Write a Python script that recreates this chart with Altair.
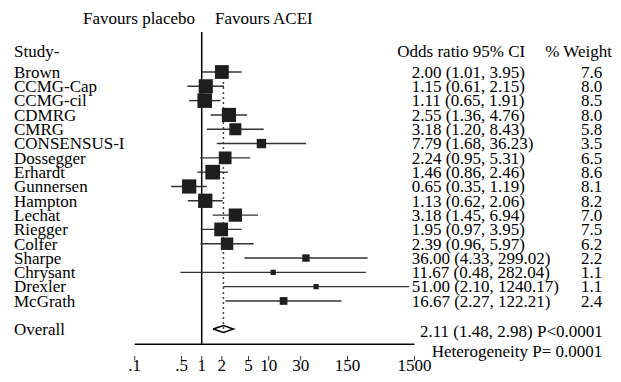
import altair as alt
import pandas as pd
import numpy as np

studies = ["Brown", "CCMG-Cap", "CCMG-cil", "CDMRG", "CMRG", "CONSENSUS-I", "Dossegger",
           "Erhardt", "Gunnersen", "Hampton", "Lechat", "Riegger", "Colfer", "Sharpe",
           "Chrysant", "Drexler", "McGrath"]
odds = [2.00, 1.15, 1.11, 2.55, 3.18, 7.79, 2.24, 1.46, 0.65, 1.13, 3.18, 1.95, 2.39,
        36.00, 11.67, 51.00, 16.67]
lower = [1.01, 0.61, 0.65, 1.36, 1.20, 1.68, 0.95, 0.86, 0.35, 0.62, 1.45, 0.97, 0.96,
         4.33, 0.48, 2.10, 2.27]
upper = [3.95, 2.15, 1.91, 4.76, 8.43, 36.23, 5.31, 2.46, 1.19, 2.06, 6.94, 3.95, 5.97,
         299.02, 282.04, 1240.17, 122.21]
weights = [7.6, 8.0, 8.5, 8.0, 5.8, 3.5, 6.5, 8.6, 8.1, 8.2, 7.0, 7.5, 6.2, 2.2, 1.1, 1.1, 2.4]
overall_or = 2.11
overall_lo = 1.48
overall_hi = 2.98
overall_p = "P<0.0001"
heterogeneity = "Heterogeneity P= 0.0001"
tick_values = [0.1, 0.5, 1, 2, 5, 10, 30, 150, 1500]
tick_labels = [".1", ".5", "1", "2", "5", "10", "30", "150", "1500"]

FONT = "Liberation Serif"
FS = 17
W, H = 605, 366
ROW_PX = 14.31
TOP_PX = 64.0           # y of first row within the chart
X1_PX = 193.7           # x of OR=1 within the chart
DEC_PX = 67.0           # pixels per decade
DY = 5.8

xs = alt.Scale(type="log", domain=[10 ** ((0 - X1_PX) / DEC_PX), 10 ** ((W - X1_PX) / DEC_PX)], nice=False)
ys = alt.Scale(domain=[-TOP_PX / ROW_PX, (H - TOP_PX) / ROW_PX], reverse=True, nice=False, zero=False)

n = len(studies)
OVERALL_ROW = 17.96
AXIS_ROW = 19.03

df = pd.DataFrame({
    "study": studies, "or": odds, "lo": lower, "hi": upper, "w": weights,
    "row": list(range(n)),
})
df["ci"] = [f"{o:.2f} ({l:.2f}, {u:.2f})" for o, l, u in zip(odds, lower, upper)]
df["wt"] = [f"{w:.1f}" for w in weights]
df["size"] = df["w"] * 25

X = lambda f: alt.X(f, type="quantitative", scale=xs, axis=None)
Y = lambda f: alt.Y(f, type="quantitative", scale=ys, axis=None)

base = alt.Chart(df)

vline = alt.Chart(pd.DataFrame({"v": [1.0], "r": [-2.8], "r2": [AXIS_ROW]})).mark_rule(
    color="black", strokeWidth=1.5).encode(x=X("v"), y=Y("r"), y2="r2")

dotted = alt.Chart(pd.DataFrame({"v": [overall_or], "r": [0.0], "r2": [OVERALL_ROW + 0.25]})).mark_rule(
    color="#444", strokeWidth=1.5, strokeDash=[2, 3]).encode(x=X("v"), y=Y("r"), y2="r2")

ci = base.mark_rule(color="#333", strokeWidth=1.4).encode(x=X("lo"), x2="hi", y=Y("row"))

squares = base.mark_square(color="#1e1e1e", opacity=1, filled=True).encode(
    x=X("or"), y=Y("row"), size=alt.Size("size:Q", scale=None, legend=None))

dia = pd.DataFrame({
    "v": [overall_lo, overall_or, overall_hi, overall_or, overall_lo],
    "r": [OVERALL_ROW, OVERALL_ROW - 0.24, OVERALL_ROW, OVERALL_ROW + 0.24, OVERALL_ROW],
    "o": [0, 1, 2, 3, 4],
})
diamond = alt.Chart(dia).mark_line(color="black", strokeWidth=1.5).encode(
    x=X("v"), y=Y("r"), order="o:O")

axis_line = alt.Chart(pd.DataFrame({"v": [tick_values[0]], "v2": [tick_values[-1]], "r": [AXIS_ROW]})).mark_rule(
    color="black", strokeWidth=1.5).encode(x=X("v"), x2="v2", y=Y("r"))

ticks_df = pd.DataFrame({"v": tick_values, "lab": tick_labels, "r": 19.85, "r2": 20.17, "rl": 20.9})
ticks = alt.Chart(ticks_df).mark_rule(color="#333", strokeWidth=1).encode(x=X("v"), y=Y("r"), y2="r2")
tick_text = alt.Chart(ticks_df).mark_text(font=FONT, fontSize=FS, baseline="alphabetic", align="center",
                                          color="black").encode(x=X("v"), y=Y("rl"), text="lab:N")

names = base.mark_text(font=FONT, fontSize=FS, align="left", baseline="alphabetic", dy=DY,
                       color="black").encode(x=alt.value(6), y=Y("row"), text="study:N")
ci_text = base.mark_text(font=FONT, fontSize=FS, align="left", baseline="alphabetic", dy=DY,
                         color="black").encode(x=alt.value(403.7), y=Y("row"), text="ci:N")
wt_text = base.mark_text(font=FONT, fontSize=FS, align="center", baseline="alphabetic", dy=DY,
                         color="black").encode(x=alt.value(583.5), y=Y("row"), text="wt:N")


def label(text, px, r, align="left"):
    return alt.Chart(pd.DataFrame({"t": [text], "r": [r]})).mark_text(
        font=FONT, fontSize=FS, align=align, baseline="alphabetic", color="black").encode(
        x=alt.value(px), y=Y("r"), text="t:N")


labels = [
    label("Favours placebo", 187, -3.354, "right"),
    label("Favours ACEI", 207, -3.354),
    label("Study-", 6, -1.08),
    label("Odds ratio 95% CI", 389.3, -1.08),
    label("% Weight", 604, -1.08, "right"),
    label("Overall", 6, 18.38),
    label(f"{overall_or:.2f} ({overall_lo:.2f}, {overall_hi:.2f}) {overall_p}", 412, 18.55),
    label(heterogeneity, 423.7, 19.93),
]

chart = alt.layer(vline, dotted, ci, squares, diamond, axis_line, ticks, tick_text,
                  names, ci_text, wt_text, *labels).properties(
    width=W, height=H, autosize=alt.AutoSizeParams(type="none"), padding=0,
    background="white").configure_view(stroke=None)

chart.save("out.html", embed_options={"renderer": "svg", "actions": False})
